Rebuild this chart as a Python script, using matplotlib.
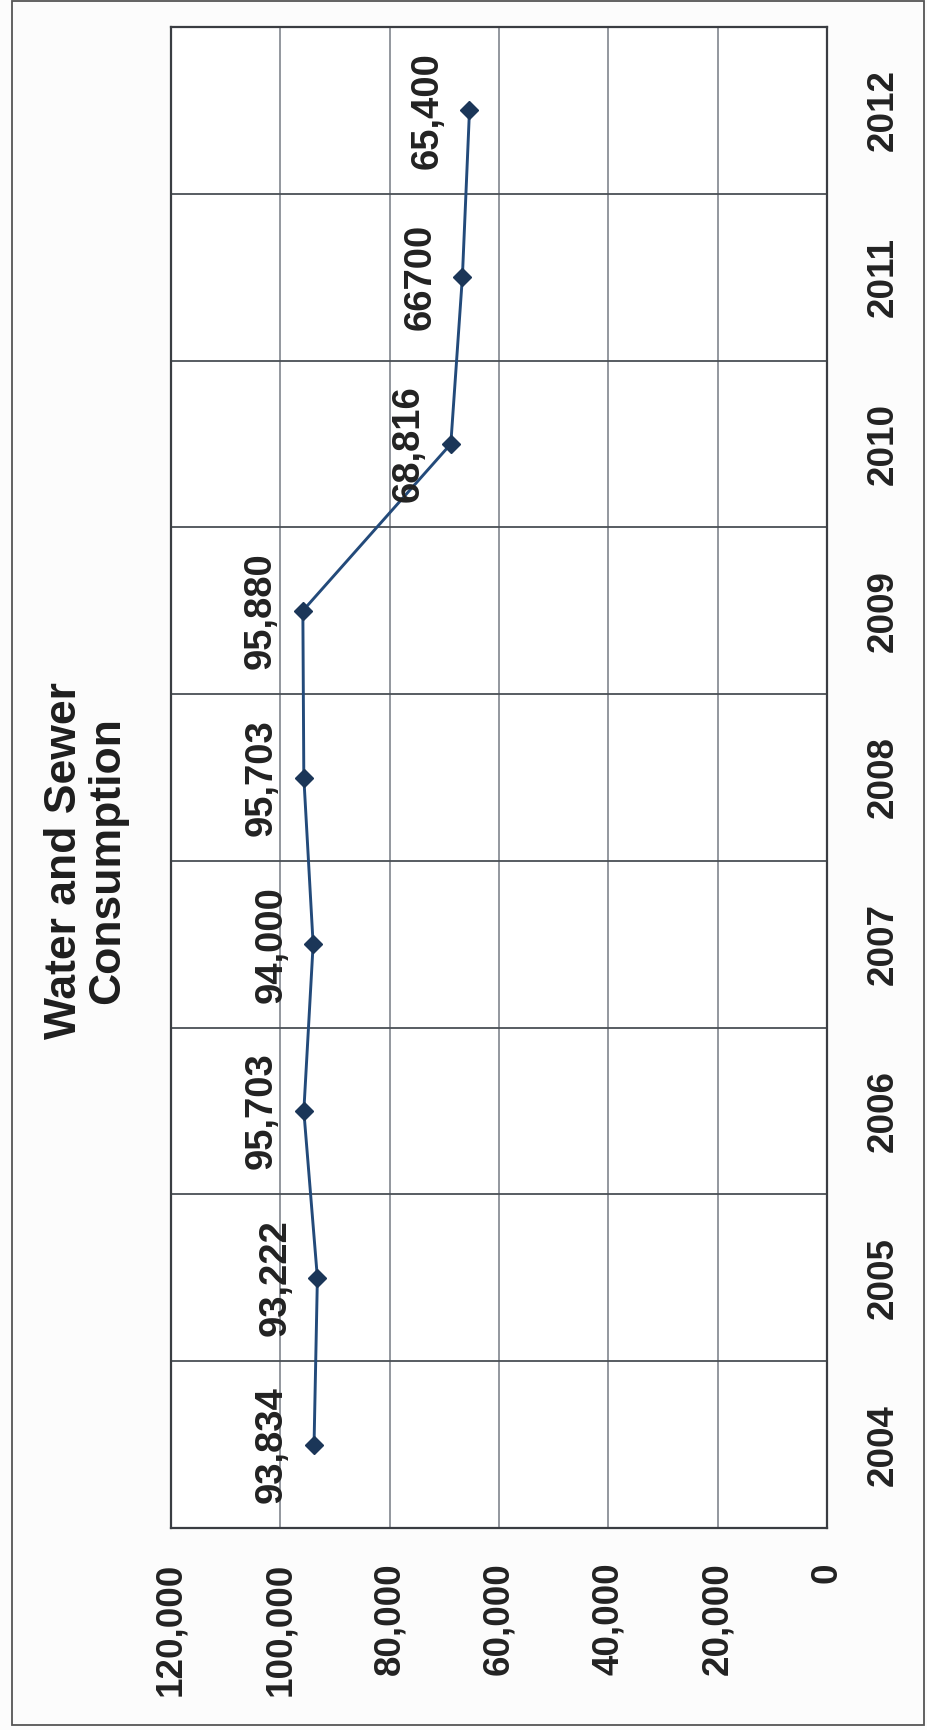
import matplotlib.pyplot as plt
from matplotlib.patches import Rectangle

# Annual water and sewer consumption
years = ["2004", "2005", "2006", "2007", "2008", "2009", "2010", "2011", "2012"]
consumption = [93834, 93222, 95703, 94000, 95703, 95880, 68816, 66700, 65400]
point_labels = ["93,834", "93,222", "95,703", "94,000", "95,703", "95,880", "68,816", "66700", "65,400"]
value_ticks = [0, 20000, 40000, 60000, 80000, 100000, 120000]

plt.rcParams['font.family'] = ['Liberation Sans', 'DejaVu Sans']
plt.rcParams['font.weight'] = 'bold'

W, H = 927, 1730
fig = plt.figure(figsize=(W / 100, H / 100), dpi=100)
fig.patch.set_facecolor('#fcfcfc')

# the chart sits on its side: values run right-to-left, years bottom-to-top
ax = fig.add_axes([171 / W, (H - 1528) / H, (827 - 171) / W, (1528 - 27) / H])
ax.set_facecolor('white')

pos = list(range(len(years)))
ax.plot(consumption, pos, color='#234a7a', lw=2.1, marker='D', markersize=9.5,
        markerfacecolor='#1b3658', markeredgecolor='#1b3658', zorder=3)

for v, p, lab in zip(consumption, pos, point_labels):
    ax.annotate(lab, (v, p), xytext=(-42, 0), textcoords='offset pixels',
                rotation=90, ha='center', va='center', fontsize=27.5,
                fontweight='bold', color='#222222', zorder=4)

ax.set_xlim(120000, 0)
ax.set_ylim(-0.5, len(years) - 0.5)

ax.set_xticks(value_ticks)
ax.set_xticklabels([f"{t:,}" for t in value_ticks], rotation=90, fontsize=26.5,
                   fontweight='bold', color='#222222')
ax.tick_params(axis='x', length=0, pad=25)

ax.yaxis.tick_right()
ax.set_yticks(pos)
ax.set_yticklabels(years, rotation=90, fontsize=26.5, fontweight='bold', color='#222222')
ax.set_yticks([p + 0.5 for p in pos[:-1]], minor=True)
ax.tick_params(axis='y', which='both', length=0, pad=28)
for lab in ax.get_yticklabels():
    lab.set_va('center')

ax.grid(axis='x', which='major', color='#8a8f96', lw=1.3)
ax.grid(axis='y', which='minor', color='#4a4f55', lw=1.3)
ax.set_axisbelow(True)
for s in ax.spines.values():
    s.set_color('#3a3d42')
    s.set_linewidth(1.6)

fig.text(86 / W, 1 - 861 / H, "Water and Sewer\nConsumption", rotation=90,
         ha='center', va='center', multialignment='center', fontsize=32,
         fontweight='bold', color='#1e1e1e', linespacing=1.05)

fig.patches.append(Rectangle((12 / W, 5 / H), (924 - 12) / W, (1725 - 1) / H,
                             transform=fig.transFigure, fill=False,
                             edgecolor='#555555', lw=1.3))

fig.savefig('out.png', dpi=100, facecolor=fig.get_facecolor())
